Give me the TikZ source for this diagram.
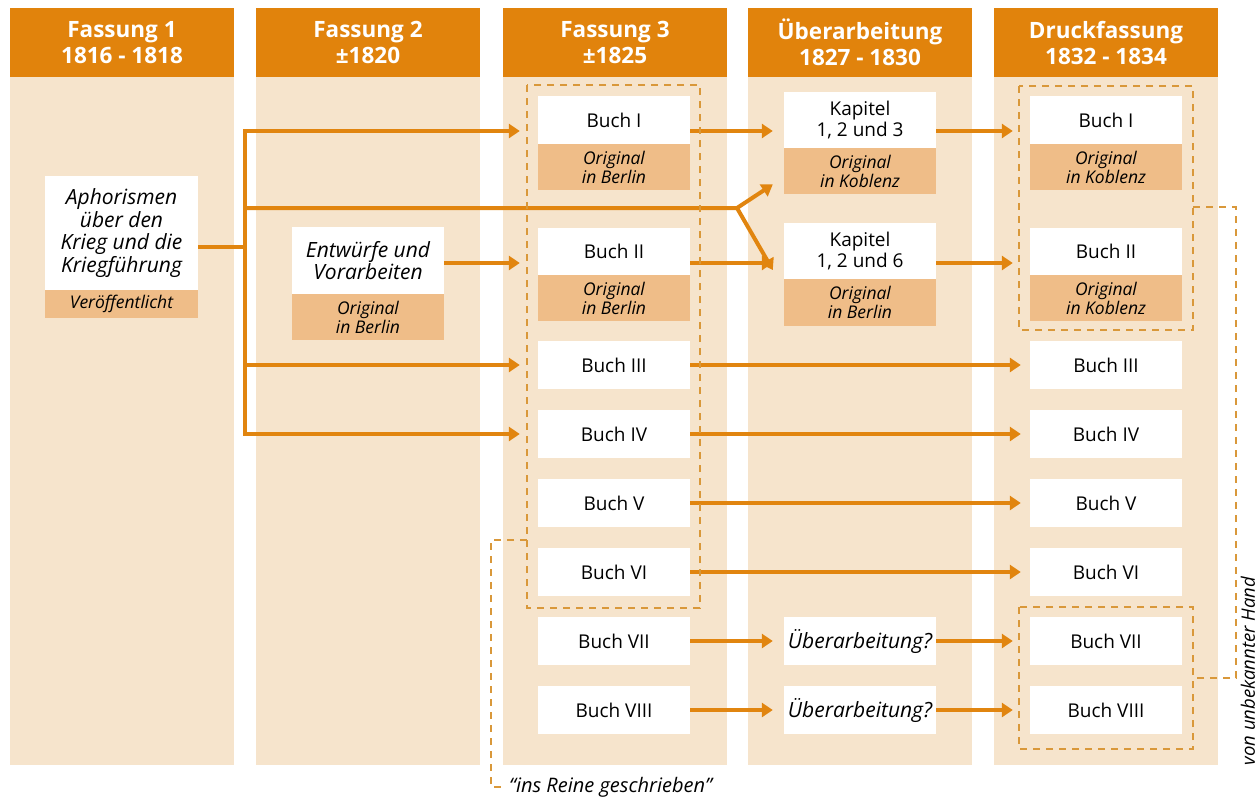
\documentclass[tikz,border=0pt]{standalone}
\usepackage{fontspec}
\setmainfont{Open Sans}
\usetikzlibrary{arrows.meta}
\definecolor{hdr}{HTML}{E1830C}
\definecolor{bg}{HTML}{F6E4CC}
\definecolor{subc}{HTML}{EFBD88}
\definecolor{arrc}{HTML}{E1850F}
\definecolor{dashc}{HTML}{D9983A}
\tikzset{
  hdrbox/.style={fill=hdr, text=white, font=\fontsize{22.5}{26}\selectfont\bfseries, align=center, minimum width=224pt, minimum height=69pt, inner sep=0pt},
  wbox/.style={fill=white, inner sep=0pt, align=center, font=\fontsize{19}{21}\selectfont, minimum width=152pt},
  itbox/.style={wbox, font=\fontsize{21}{22.5}\selectfont\itshape},
  sbox/.style={fill=subc, inner sep=0pt, align=center, font=\fontsize{17.5}{19}\selectfont\itshape, minimum width=152pt, anchor=north},
  ln/.style={draw=arrc, line width=4pt},
  arr/.style={draw=arrc, line width=4pt, -{Triangle[length=11pt,width=14pt]}},
  dsh/.style={draw=dashc, line width=2.2pt, dash pattern=on 7pt off 6pt},
  note/.style={inner sep=0pt, font=\fontsize{20}{22}\selectfont\itshape},
}
\begin{document}
\begin{tikzpicture}[x=1pt,y=-1pt]
\useasboundingbox (0,0) rectangle (1260,798);
% columns
\foreach \xo in {10,256,503,748,994}{
  \fill[bg] (\xo,76) rectangle ++(224,689);
}
\node[hdrbox] (h1) at (122,42.5) {Fassung 1\\1816 - 1818};
\node[hdrbox] (h2) at (368,42.5) {Fassung 2\\±1820};
\node[hdrbox] (h3) at (615,42.5) {Fassung 3\\±1825};
\node[hdrbox] (h4) at (860,42.5) {Überarbeitung\\1827 - 1830};
\node[hdrbox] (h5) at (1106,42.5) {Druckfassung\\1832 - 1834};

% row coordinates
\coordinate (r1) at (0,131);
\coordinate (r2) at (0,263);
\coordinate (r3) at (0,365);
\coordinate (r4) at (0,434);

% column 1
\node[itbox, minimum width=153pt, minimum height=114pt] (aph) at (121.5,233) {Aphorismen\\über den\\Krieg und die\\Kriegführung};
\node[sbox, minimum width=153pt, minimum height=28pt] (aphs) at (aph.south) {Veröffentlicht};

% column 2
\node[itbox, minimum height=67pt] (ent) at (368,260.5) {Entwürfe und\\Vorarbeiten};
\node[sbox, minimum height=46pt] (ents) at (ent.south) {Original\\in Berlin};

% column 3
\node[wbox, minimum height=48pt] (c3b1) at (614,120) {Buch I};
\node[sbox, minimum height=46pt] (c3s1) at (c3b1.south) {Original\\in Berlin};
\node[wbox, minimum height=47pt] (c3b2) at (614,251.5) {Buch II};
\node[sbox, minimum height=46pt] (c3s2) at (c3b2.south) {Original\\in Berlin};
\node[wbox, minimum height=48pt] (c3b3) at (614,365) {Buch III};
\node[wbox, minimum height=48pt] (c3b4) at (614,434) {Buch IV};
\node[wbox, minimum height=48pt] (c3b5) at (614,503) {Buch V};
\node[wbox, minimum height=48pt] (c3b6) at (614,572) {Buch VI};
\node[wbox, minimum height=48pt] (c3b7) at (614,641) {Buch VII};
\node[wbox, minimum height=48pt] (c3b8) at (614,710) {Buch VIII};

% column 4
\node[wbox, minimum height=56pt] (k123) at (860,120) {Kapitel\\1, 2 und 3};
\node[sbox, minimum height=46pt] (k123s) at (k123.south) {Original\\in Koblenz};
\node[wbox, minimum height=56pt] (k126) at (860,251) {Kapitel\\1, 2 und 6};
\node[sbox, minimum height=47pt] (k126s) at (k126.south) {Original\\in Berlin};
\node[itbox, minimum height=48pt] (u7) at (860,641) {Überarbeitung?};
\node[itbox, minimum height=48pt] (u8) at (860,710) {Überarbeitung?};

% column 5
\node[wbox, minimum height=48pt] (d1) at (1106,120) {Buch I};
\node[sbox, minimum height=46pt] (d1s) at (d1.south) {Original\\in Koblenz};
\node[wbox, minimum height=47pt] (d2) at (1106,251.5) {Buch II};
\node[sbox, minimum height=46pt] (d2s) at (d2.south) {Original\\in Koblenz};
\node[wbox, minimum height=48pt] (d3) at (1106,365) {Buch III};
\node[wbox, minimum height=48pt] (d4) at (1106,434) {Buch IV};
\node[wbox, minimum height=48pt] (d5) at (1106,503) {Buch V};
\node[wbox, minimum height=48pt] (d6) at (1106,572) {Buch VI};
\node[wbox, minimum height=48pt] (d7) at (1106,641) {Buch VII};
\node[wbox, minimum height=48pt] (d8) at (1106,710) {Buch VIII};

% trunk from Aphorismen
\coordinate (tMid) at (245,247);
\coordinate (fk) at (737,208);
\draw[ln] ([yshift=-14pt]aph.east) -- (tMid);
\draw[arr] (tMid) |- ([xshift=-18pt]c3b1.west |- r1);
\draw[arr] (tMid) |- ([xshift=-18pt]c3b4.west |- r4);
\draw[arr] (tMid |- r3) -- ([xshift=-18pt]c3b3.west |- r3);
\draw[arr] (tMid |- fk) -- (fk) -- ([xshift=-11pt,yshift=-13pt]k123s.west);
\draw[arr] (fk) -- ([xshift=-11pt,yshift=-19pt]k126.west);

% Entwürfe
\draw[arr] (ent.east |- r2) -- ([xshift=-18pt]c3b2.west |- r2);

% column 3 -> 4 -> 5
\draw[arr] (c3b1.east |- r1) -- ([xshift=-11pt]k123.west |- r1);
\draw[arr] (c3b2.east |- r2) -- ([xshift=-11pt]k126.west |- r2);
\draw[arr] (k123.east |- r1) -- ([xshift=-17pt]d1.west |- r1);
\draw[arr] (k126.east |- r2) -- ([xshift=-17pt]d2.west |- r2);
\draw[arr] (c3b3.east) -- ([xshift=-9pt]d3.west);
\draw[arr] (c3b4.east) -- ([xshift=-9pt]d4.west);
\draw[arr] (c3b5.east) -- ([xshift=-9pt]d5.west);
\draw[arr] (c3b6.east) -- ([xshift=-9pt]d6.west);
\draw[arr] (c3b7.east) -- ([xshift=-11pt]u7.west);
\draw[arr] (c3b8.east) -- ([xshift=-11pt]u8.west);
\draw[arr] (u7.east) -- ([xshift=-17pt]d7.west);
\draw[arr] (u8.east) -- ([xshift=-17pt]d8.west);

% dashed groups
\draw[dsh] (527,85) rectangle (700,608);
\draw[dsh] (1019,86) rectangle (1193,330);
\draw[dsh] (1019,607) rectangle (1193,749);
\draw[dsh] (1193,207) -- (1236,207) -- (1236,678) -- (1193,678);
\coordinate (qa) at (505,787);
\draw[dsh] (527,540) -- (491,540) -- (491,787) -- (qa);
\node[note, anchor=west] (qt) at ([xshift=4pt]qa) {“ins Reine geschrieben”};
\node[note, font=\fontsize{18.5}{20}\selectfont\itshape, rotate=90] (vh) at (1248,671) {von unbekannter Hand};
\end{tikzpicture}
\end{document}
